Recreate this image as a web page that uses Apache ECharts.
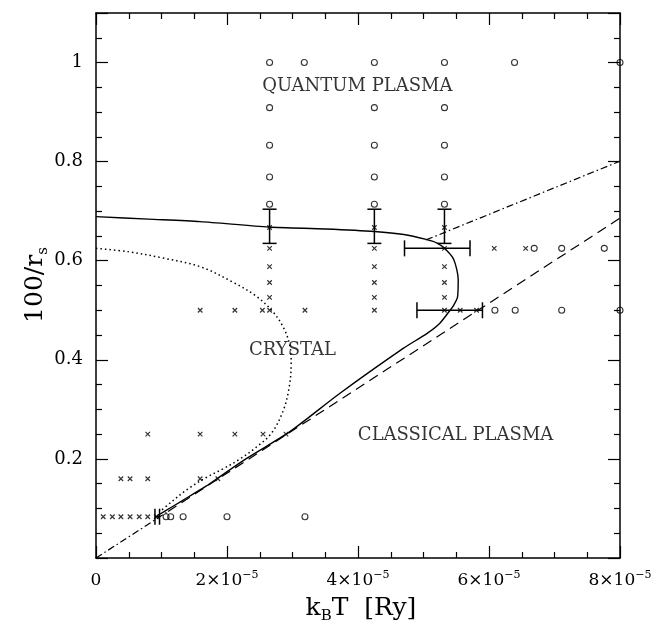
<!DOCTYPE html>
<html>
<head>
<meta charset="utf-8">
<title>phase diagram</title>
<script src="https://cdn.jsdelivr.net/npm/echarts@6/dist/echarts.min.js"></script>
<style>
  html, body { margin: 0; padding: 0; background: #fff; }
  #main { width: 656px; height: 624px; }
</style>
</head>
<body>
<div id="main"></div>
<script>
  // x values are in units of 1e-5 Ry, y is 100/r_s

  // axis ticks
  const xTicks = [0, 2, 4, 6, 8]
  const yTicks = [0.2, 0.4, 0.6, 0.8, 1]

  // open circles (quantum plasma / liquid)
  const circles = [
    [2.65, 1.0], [3.18, 1.0], [4.25, 1.0], [5.32, 1.0], [6.39, 1.0], [8.0, 1.0],
    [2.65, 0.909], [4.25, 0.909], [5.32, 0.909],
    [2.65, 0.833], [4.25, 0.833], [5.32, 0.833],
    [2.65, 0.769], [4.25, 0.769], [5.32, 0.769],
    [2.65, 0.714], [4.25, 0.714], [5.32, 0.714],
    [6.69, 0.625], [7.11, 0.625], [7.76, 0.625],
    [6.09, 0.5], [6.40, 0.5], [7.11, 0.5], [8.0, 0.5],
    [1.07, 0.0833], [1.14, 0.0833], [1.33, 0.0833], [2.0, 0.0833], [3.19, 0.0833]
  ]

  // crosses (crystal)
  const crosses = [
    [2.65, 0.667], [4.25, 0.667], [5.32, 0.667],
    [2.65, 0.625], [4.25, 0.625], [5.32, 0.625], [6.08, 0.625], [6.56, 0.625],
    [2.65, 0.588], [4.25, 0.588], [5.32, 0.588],
    [2.65, 0.556], [4.25, 0.556], [5.32, 0.556],
    [2.65, 0.526], [4.25, 0.526], [5.32, 0.526],
    [1.59, 0.5], [2.12, 0.5], [2.54, 0.5], [2.65, 0.5], [3.19, 0.5],
    [4.25, 0.5], [5.32, 0.5], [5.56, 0.5], [5.81, 0.5],
    [0.79, 0.25], [1.59, 0.25], [2.12, 0.25], [2.55, 0.25], [2.90, 0.25],
    [0.38, 0.16], [0.52, 0.16], [0.79, 0.16], [1.59, 0.16], [1.86, 0.16],
    [0.11, 0.0833], [0.25, 0.0833], [0.38, 0.0833], [0.52, 0.0833],
    [0.66, 0.0833], [0.79, 0.0833], [0.92, 0.0833]
  ]

  // error bars: [x, yLow, yHigh] and [y, xLow, xHigh]
  const vErrors = [[2.65, 0.635, 0.704], [4.25, 0.635, 0.704], [5.32, 0.635, 0.704]]
  const hErrors = [[0.625, 4.71, 5.71], [0.5, 4.90, 5.90], [0.0833, 0.90, 0.97]]

  // melting curve (solid)
  const meltLine = [
    [0, 0.689], [0.8, 0.684], [1.59, 0.679], [2.64, 0.668], [3.5, 0.664],
    [4.25, 0.659], [4.7, 0.653], [5.04, 0.643], [5.2, 0.636], [5.32, 0.625],
    [5.46, 0.603], [5.53, 0.562], [5.52, 0.527], [5.46, 0.51], [5.40, 0.499],
    [5.25, 0.474], [5.05, 0.453], [4.69, 0.423], [3.72, 0.332], [2.96, 0.255],
    [2.30, 0.201], [1.89, 0.164], [1.68, 0.145], [1.32, 0.116], [1.02, 0.092],
    [0.93, 0.085]
  ]

  // classical line (dashed) and its low-T part (dash-dot)
  const classicalLine = [[1.1, 0.094], [8.0, 0.686]]
  const classicalLow = [[0, 0], [1.1, 0.094]]

  // upper dash-dot line
  const quantumLine = [[5.04, 0.642], [8.0, 0.801]]

  // dotted curve
  const dottedLine = [
    [0, 0.625], [0.5, 0.618], [1.0, 0.606], [1.59, 0.588], [2.10, 0.556],
    [2.45, 0.528], [2.70, 0.497], [2.87, 0.463], [2.96, 0.428], [2.98, 0.393],
    [2.95, 0.345], [2.86, 0.298], [2.68, 0.252], [2.45, 0.224], [2.20, 0.200],
    [1.94, 0.180], [1.69, 0.163], [1.40, 0.139], [1.15, 0.113], [0.97, 0.093]
  ]

  // region names
  const regionNames = ['QUANTUM PLASMA', 'CRYSTAL', 'CLASSICAL PLASMA']
  const regionAt = [[3.99, 0.951], [3.0, 0.42], [5.49, 0.248]]

  const serif = 'DejaVu Serif'
  const black = '#000'

  const tickStyle = {
    axisLine: { show: true, onZero: false, lineStyle: { color: black, width: 1.5 } },
    axisTick: { show: true, inside: true, length: 12, lineStyle: { color: black, width: 1.2 } },
    minorTick: { show: true, splitNumber: 4, length: 6, lineStyle: { color: black, width: 1.2 } },
    splitLine: { show: false },
    minorSplitLine: { show: false }
  }

  const myChart = echarts.init(document.getElementById('main'), null, { renderer: 'canvas' })

  const errRender = function (vertical) {
    return function (params, api) {
      const c = api.value(0)
      const lo = api.value(1)
      const hi = api.value(2)
      const a = vertical ? api.coord([c, lo]) : api.coord([lo, c])
      const b = vertical ? api.coord([c, hi]) : api.coord([hi, c])
      const w = vertical ? 7 : 8
      const st = { stroke: black, lineWidth: 1.5 }
      const cap = function (p) {
        return vertical
          ? { type: 'line', shape: { x1: p[0] - w, y1: p[1], x2: p[0] + w, y2: p[1] }, style: st }
          : { type: 'line', shape: { x1: p[0], y1: p[1] - w, x2: p[0], y2: p[1] + w }, style: st }
      }
      return {
        type: 'group',
        children: [
          { type: 'line', shape: { x1: a[0], y1: a[1], x2: b[0], y2: b[1] }, style: st },
          cap(a),
          cap(b)
        ]
      }
    }
  }

  const lineSeries = function (data, type, width, smooth) {
    return {
      type: 'line',
      data: data,
      symbol: 'none',
      smooth: smooth || false,
      silent: true,
      lineStyle: { color: black, width: width, type: type },
      z: 2
    }
  }

  const titleRich = {
    a: { fontFamily: serif, fontSize: 25, lineHeight: 32, fill: black, color: black },
    b: { fontFamily: serif, fontSize: 15, lineHeight: 20, verticalAlign: 'bottom', fill: black, color: black }
  }

  const option = {
    animation: false,
    backgroundColor: '#fff',
    grid: { left: 96, right: 36, top: 13, bottom: 66 },
    xAxis: [
      Object.assign({
        type: 'value', min: 0, max: 8, interval: 2, position: 'bottom',
        axisLabel: {
          margin: 12,
          color: black,
          formatter: function (v) {
            if (xTicks.indexOf(v) < 0) return ''
            return v === 0 ? '{n|0}' : '{n|' + v + '×10}{s|−5}'
          },
          rich: {
            n: { fontFamily: serif, fontSize: 17, lineHeight: 22, color: black },
            s: { fontFamily: serif, fontSize: 11, lineHeight: 10, verticalAlign: 'top', color: black }
          }
        }
      }, tickStyle),
      Object.assign({
        type: 'value', min: 0, max: 8, interval: 2, position: 'top',
        axisLabel: { show: false }
      }, tickStyle)
    ],
    yAxis: [
      Object.assign({
        type: 'value', min: 0, max: 1.1, interval: 0.2, position: 'left',
        axisLabel: {
          margin: 13,
          color: black,
          fontFamily: serif,
          fontSize: 18,
          formatter: function (v) {
            const k = yTicks.indexOf(Math.round(v * 10) / 10)
            return k < 0 ? '' : String(yTicks[k])
          }
        }
      }, tickStyle),
      Object.assign({
        type: 'value', min: 0, max: 1.1, interval: 0.2, position: 'right',
        axisLabel: { show: false }
      }, tickStyle)
    ],
    graphic: [
      {
        type: 'text', x: 35, y: 285, rotation: Math.PI / 2,
        style: { text: '{a|100/r}{b|s}', align: 'center', verticalAlign: 'middle', rich: titleRich }
      },
      {
        type: 'text', x: 361, y: 608,
        style: { text: '{a|k}{b|B}{a|T  [Ry]}', align: 'center', verticalAlign: 'middle', rich: titleRich }
      }
    ],
    series: [
      lineSeries(meltLine, 'solid', 1.4, 0.25),
      lineSeries(classicalLine, [10, 6], 1.2),
      lineSeries(classicalLow, [7, 3, 1.5, 3], 1.2),
      lineSeries(quantumLine, [7, 3, 1.5, 3], 1.2),
      lineSeries(dottedLine, [1.5, 3], 1.5, 0.35),
      {
        type: 'custom',
        renderItem: errRender(true),
        data: vErrors,
        encode: { x: 0, y: [1, 2] },
        silent: true,
        z: 3
      },
      {
        type: 'custom',
        renderItem: errRender(false),
        data: hErrors,
        encode: { y: 0, x: [1, 2] },
        silent: true,
        z: 3
      },
      {
        type: 'scatter',
        data: circles,
        symbol: 'circle',
        symbolSize: 6,
        itemStyle: { color: 'none', borderColor: black, borderWidth: 1.1 },
        silent: true,
        z: 4
      },
      {
        type: 'scatter',
        data: crosses,
        symbol: 'path://M0 0L10 10M10 0L0 10',
        symbolSize: 4.5,
        itemStyle: { color: 'none', borderColor: black, borderWidth: 1.2 },
        silent: true,
        z: 4
      },
      {
        // region names
        type: 'scatter',
        data: regionNames.map(function (n, i) { return { name: n, value: regionAt[i] } }),
        symbolSize: 0,
        silent: true,
        label: {
          show: true,
          position: 'inside',
          formatter: '{b}',
          fontFamily: serif,
          fontSize: 18,
          color: black
        },
        z: 5
      }
    ]
  }

  myChart.setOption(option)
</script>
</body>
</html>
